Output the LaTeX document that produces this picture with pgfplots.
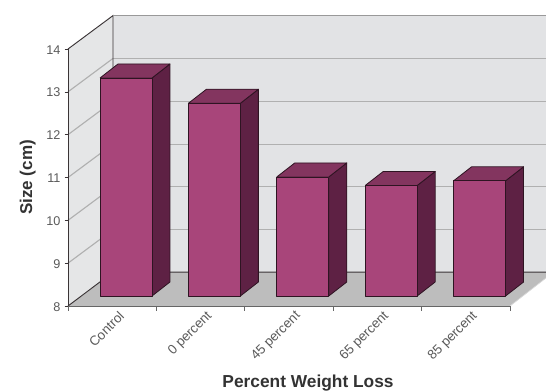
\documentclass[border=0pt]{standalone}
\usepackage{fontspec}
\setmainfont{Liberation Sans}
\usepackage{pgfplots}
\pgfplotsset{compat=1.18}
\usepackage{pgfplotstable}

\definecolor{wallback}{HTML}{E2E3E5}
\definecolor{wallside}{HTML}{E5E6E7}
\definecolor{floorgrey}{HTML}{BDBDBD}
\definecolor{gridgrey}{HTML}{B0B0B0}
\definecolor{framedark}{HTML}{3A3436}
\definecolor{barfront}{HTML}{A8457A}
\definecolor{bartop}{HTML}{83355F}
\definecolor{barside}{HTML}{5E2144}
\definecolor{baredge}{HTML}{2E1422}
\definecolor{ticktext}{HTML}{5A5A5A}
\definecolor{titletext}{HTML}{333333}

% Size by weight-loss group; pos is the middle of each category slot
\pgfplotstableread{
pos  size
0.5  13.09
1.5  12.50
2.5  10.78
3.5  10.58
4.5  10.69
}\sizedata

% Floor-to-wall depth of the chart box, in data units
\def\wdx{0.509}
\def\wdy{0.78}

% Side and top faces of one bar: {slot middle}{value}
\newcommand{\barfaces}[2]{%
  \pgfmathsetmacro{\xl}{#1-0.294}%
  \pgfmathsetmacro{\xr}{#1+0.294}%
  \pgfmathsetmacro{\xb}{\xr+0.2036}%
  \pgfmathsetmacro{\xc}{\xl+0.2036}%
  \pgfmathsetmacro{\yb}{#2+0.327}%
  \addplot[bar solid, forward, fill=barside] coordinates {(\xr,8) (\xb,8.327) (\xb,\yb) (\xr,#2) (\xr,8)};
  \addplot[bar solid, forward, fill=bartop] coordinates {(\xl,#2) (\xr,#2) (\xb,\yb) (\xc,\yb) (\xl,#2)};
}

\begin{document}
\begin{tikzpicture}
\path[use as bounding box] (0,0) rectangle (409.5pt,292.5pt);
\begin{axis}[
  at={(51pt,63pt)}, anchor=south west,
  scale only axis, width=331.5pt, height=192.75pt,
  xmin=0, xmax=5, ymin=8, ymax=14,
  clip=false, axis on top,
  axis x line*=bottom, axis y line*=left,
  axis line style={-, draw=framedark, line width=0.7pt},
  x axis line style={draw=gray!80!black},
  xtick={0.5,1.5,2.5,3.5,4.5},
  xticklabels={Control,0 percent,45 percent,65 percent,85 percent},
  minor xtick={0,1,2,3,4,5},
  ytick={8,9,10,11,12,13,14},
  major x tick style={draw=none},
  minor x tick style={draw=gray!80!black, line width=0.5pt},
  minor tick length=3.5pt,
  major tick length=2.5pt,
  y tick style={draw=framedark, line width=0.5pt},
  tick align=outside,
  /pgf/number format/assume math mode=true,
  yticklabel style={font=\fontsize{9.5}{12}\selectfont, text=ticktext, xshift=0.4pt, yshift=-0.5pt},
  xticklabel style={font=\fontsize{10}{12}\selectfont, text=ticktext, rotate=45, anchor=east, xshift=6pt, yshift=-7.5pt},
  xlabel={Percent Weight Loss},
  ylabel={Size (cm)},
  xlabel style={font=\bfseries\fontsize{13}{15}\selectfont, text=titletext, at={(axis description cs:0.543,-0.299)}, anchor=center},
  ylabel style={font=\bfseries\fontsize{12.8}{15}\selectfont, text=titletext, at={(axis description cs:-0.091,0.5)}, anchor=center},
  bar solid/.style={draw=baredge, line width=0.6pt, line join=round},
  forward/.style={xshift=10.35pt, yshift=7.5pt},
]
% Chart box: side wall, back wall, floor
\addplot[draw=none, fill=wallside] coordinates {(0,8) (0,14) (0.509,14.78) (0.509,8.79) (0,8)};
\addplot[draw=none, fill=wallback] coordinates {(0.509,8.79) (0.509,14.78) (5.407,14.78) (5.407,8.79) (0.509,8.79)};
\addplot[draw=none, fill=floorgrey] coordinates {(0,8) (5,8) (5.407,8.654) (5.407,8.79) (0.509,8.79) (0,8)};

% Grid lines on both walls
\pgfplotsinvokeforeach{9,10,11,12,13}{
  \addplot[draw=gridgrey, line width=0.85pt] coordinates {(0,#1) (\wdx,#1+\wdy)};
  \addplot[draw=gridgrey, line width=0.85pt] coordinates {(\wdx,#1+\wdy) (5.407,#1+\wdy)};
}

% Frame lines of the box
\addplot[draw=framedark, line width=0.7pt] coordinates {(0,14) (0.509,14.78) (0.509,8.79) (5.407,8.79)};
\addplot[draw=framedark, line width=0.7pt] coordinates {(0,8) (0.509,8.79)};
\addplot[draw=gray!80, line width=0.9pt] coordinates {(0.509,14.78) (5.407,14.78)};
\addplot[draw=white!85!black, line width=0.5pt] coordinates {(5,8) (5.407,8.654)};

% Bars stand forward of the axis plane
\barfaces{0.5}{13.09}
\barfaces{1.5}{12.50}
\barfaces{2.5}{10.78}
\barfaces{3.5}{10.58}
\barfaces{4.5}{10.69}
\addplot[ybar, bar width=39pt, bar shift=0pt, bar solid, forward, fill=barfront] table[x=pos, y=size] {\sizedata};
\end{axis}
\end{tikzpicture}
\end{document}
